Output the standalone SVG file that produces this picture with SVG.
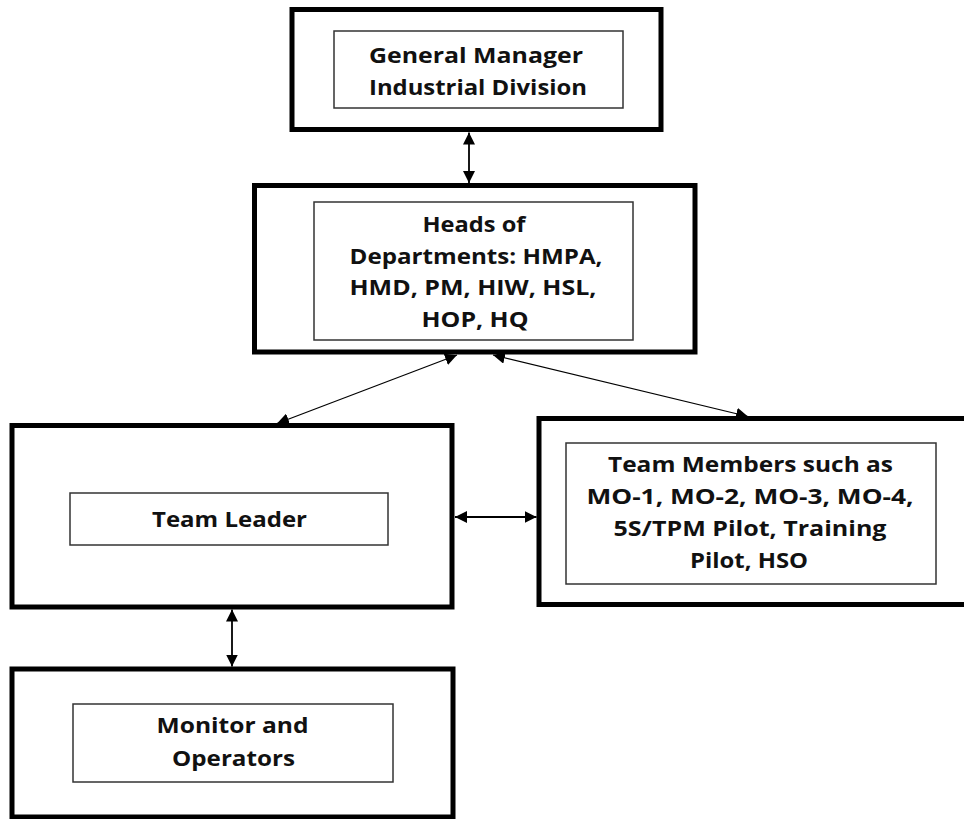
<svg xmlns="http://www.w3.org/2000/svg" width="964" height="819" viewBox="0 0 964 819">
  <style>
    .outer { fill: #ffffff; stroke: #000000; stroke-width: 5; }
    .inner { fill: #ffffff; stroke: #333333; stroke-width: 1.5; }
    .label { font-family: "Open Sans", "Liberation Sans", sans-serif; font-weight: bold; font-size: 22px; fill: #111111; text-anchor: middle; }
    .link { stroke: #000000; fill: none; }
    .thick { stroke-width: 1.8; }
    .thin { stroke-width: 1.2; }
  </style>
  <defs>
    <marker id="head" viewBox="0 0 10 10" refX="10" refY="5" markerWidth="12" markerHeight="12" markerUnits="userSpaceOnUse" orient="auto-start-reverse">
      <path d="M0,0 L10,5 L0,10 Z" fill="#000000"/>
    </marker>
  </defs>
  <rect width="964" height="819" fill="#ffffff"/>

  <g id="general-manager">
    <rect class="outer" x="292" y="9.5" width="369" height="120"/>
    <rect class="inner" x="334" y="31" width="289" height="77"/>
    <text class="label" x="476" y="63" textLength="214" lengthAdjust="spacingAndGlyphs">General Manager</text>
    <text class="label" x="478" y="95" textLength="218" lengthAdjust="spacingAndGlyphs">Industrial Division</text>
  </g>

  <g id="heads-of-departments">
    <rect class="outer" x="254.5" y="185.5" width="440.5" height="166.5"/>
    <rect class="inner" x="314" y="202" width="319" height="138"/>
    <text class="label" x="474" y="232" textLength="103" lengthAdjust="spacingAndGlyphs">Heads of</text>
    <text class="label" x="476" y="264" textLength="253" lengthAdjust="spacingAndGlyphs">Departments: HMPA,</text>
    <text class="label" x="473" y="295" textLength="247" lengthAdjust="spacingAndGlyphs">HMD, PM, HIW, HSL,</text>
    <text class="label" x="475" y="327" textLength="107" lengthAdjust="spacingAndGlyphs">HOP, HQ</text>
  </g>

  <g id="team-leader">
    <rect class="outer" x="12" y="425.5" width="440" height="181.5"/>
    <rect class="inner" x="70" y="493" width="318" height="52"/>
    <text class="label" x="229.5" y="527" textLength="155" lengthAdjust="spacingAndGlyphs">Team Leader</text>
  </g>

  <g id="team-members">
    <rect class="outer" x="539" y="418.5" width="440" height="186"/>
    <rect class="inner" x="566" y="443" width="370" height="141"/>
    <text class="label" x="750.5" y="472" textLength="285" lengthAdjust="spacingAndGlyphs">Team Members such as</text>
    <text class="label" x="750" y="504" textLength="327" lengthAdjust="spacingAndGlyphs">MO-1, MO-2, MO-3, MO-4,</text>
    <text class="label" x="750" y="536" textLength="273" lengthAdjust="spacingAndGlyphs">5S/TPM Pilot, Training</text>
    <text class="label" x="749" y="568" textLength="118" lengthAdjust="spacingAndGlyphs">Pilot, HSO</text>
  </g>

  <g id="monitor-operators">
    <rect class="outer" x="12" y="669" width="441" height="148"/>
    <rect class="inner" x="73" y="704" width="320" height="78"/>
    <text class="label" x="232.5" y="733" textLength="152" lengthAdjust="spacingAndGlyphs">Monitor and</text>
    <text class="label" x="233.5" y="766" textLength="123" lengthAdjust="spacingAndGlyphs">Operators</text>
  </g>

  <g id="connectors">
    <line class="link thick" x1="469" y1="132.5" x2="469" y2="183" marker-start="url(#head)" marker-end="url(#head)"/>
    <line class="link thin" x1="457" y1="355" x2="277" y2="423.5" marker-start="url(#head)" marker-end="url(#head)"/>
    <line class="link thin" x1="493" y1="355" x2="748" y2="416.5" marker-start="url(#head)" marker-end="url(#head)"/>
    <line class="link thick" x1="455" y1="517" x2="536.5" y2="517" marker-start="url(#head)" marker-end="url(#head)"/>
    <line class="link thick" x1="232" y1="609.5" x2="232" y2="666.5" marker-start="url(#head)" marker-end="url(#head)"/>
  </g>
</svg>
